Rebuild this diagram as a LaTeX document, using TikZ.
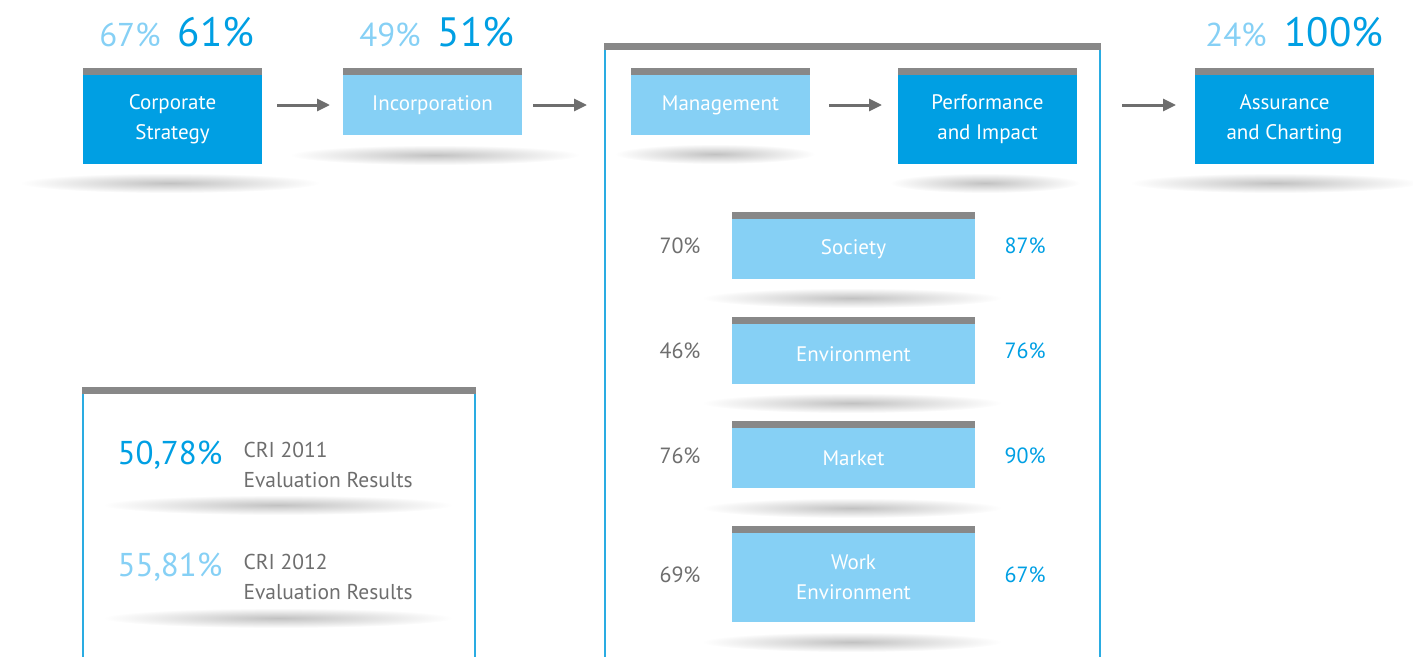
\documentclass[tikz,border=0pt]{standalone}
\usepackage{fontspec}
\setmainfont{PT Sans}
\usetikzlibrary{arrows.meta}
\definecolor{deepblue}{HTML}{009FE3}
\definecolor{paleblue}{HTML}{86D0F5}
\definecolor{bargray}{HTML}{888888}
\definecolor{inkgray}{HTML}{6E6E6E}
\definecolor{framecol}{HTML}{2AACE2}

% gray strip on top of a card
\newcommand\cardbar[1]{\fill[bargray] ([yshift=7pt]#1.north west) rectangle (#1.north east);}
% soft elliptic floor shadow: centre x, centre y, half width
\newcommand\floorshadow[3]{\shade[inner color=black!24, outer color=white] (#1,#2) ellipse [x radius=#3pt, y radius=10pt];}

\begin{document}
\begin{tikzpicture}[x=1pt,y=-1pt,
  card/.style={anchor=north west, inner sep=0pt, outer sep=0pt, text=white, align=center,
               font=\fontsize{21}{30}\selectfont, minimum width=179pt},
  darkcard/.style={card, fill=deepblue, minimum height=89pt},
  lightcard/.style={card, fill=paleblue, minimum height=60pt},
  rowcard/.style={card, fill=paleblue, minimum width=243pt, minimum height=60pt},
  panel/.style={draw=framecol, line width=2.5pt, anchor=north west, inner sep=0pt, outer sep=0pt},
  flow/.style={draw=inkgray, line width=3pt, -{Triangle[length=13pt,width=12pt]}},
  bigpale/.style={anchor=base, text=paleblue, font=\fontsize{33}{33}\selectfont},
  bigdeep/.style={anchor=base, text=deepblue, font=\fontsize{41}{41}\selectfont},
  sidegray/.style={text=inkgray, font=\fontsize{22}{22}\selectfont},
  sideblue/.style={text=deepblue, font=\fontsize{22}{22}\selectfont},
  caption/.style={anchor=base west, text=inkgray, font=\fontsize{21.5}{21.5}\selectfont},
  score/.style={anchor=base west, font=\fontsize{33}{33}\selectfont},
]
\useasboundingbox (0,0) rectangle (1413,656);
\clip (0,0) rectangle (1413,656);

% floor shadows
\floorshadow{170}{183}{150}
\floorshadow{435}{155}{145}
\floorshadow{715}{154}{100}
\floorshadow{985}{183}{95}
\floorshadow{1275}{183}{145}
\floorshadow{852}{298}{150}
\floorshadow{852}{403}{150}
\floorshadow{852}{508}{150}
\floorshadow{852}{642}{150}
\floorshadow{278}{505}{175}
\floorshadow{278}{618}{175}

% framed panels
\node[panel, minimum width=495pt, minimum height=700pt] (frame) at (605,47) {};
\fill[bargray] ([xshift=-1.25pt,yshift=4pt]frame.north west) rectangle ([xshift=1.25pt,yshift=-3pt]frame.north east);
\node[panel, minimum width=392pt, minimum height=400pt] (legend) at (83,391) {};
\fill[bargray] ([xshift=-1.25pt,yshift=4pt]legend.north west) rectangle ([xshift=1.25pt,yshift=-3pt]legend.north east);

% main stages
\node[darkcard] (cs) at (83,75) {Corporate\\Strategy};
\node[lightcard] (inc) at (343,75) {Incorporation};
\node[lightcard] (mgmt) at (631,75) {Management};
\node[darkcard] (perf) at (898,75) {Performance\\and Impact};
\node[darkcard] (assur) at (1195,75) {Assurance\\and Charting};
\foreach \c in {cs,inc,mgmt,perf,assur} {\cardbar{\c}}

% flow arrows
\draw[flow, shorten <=15pt, shorten >=13pt] (inc.west -| cs.east) -- (inc.west);
\draw[flow, shorten <=11pt, shorten >=18pt] (inc.east) -- (inc.east -| frame.west);
\draw[flow, shorten <=19pt, shorten >=16pt] (mgmt.east) -- (mgmt.east -| perf.west);
\draw[flow, shorten <=22pt, shorten >=19pt] (frame.east |- mgmt.east) -- (mgmt.east -| assur.west);

% stage scores
\node[bigpale] (cs-a) at (130,46) {67\%};
\node[bigdeep] (cs-b) at (216,46) {61\%};
\node[bigpale] (inc-a) at (390,46) {49\%};
\node[bigdeep] (inc-b) at (476,46) {51\%};
\node[bigpale] (as-a) at (1236,46) {24\%};
\node[bigdeep] (as-b) at (1334,46) {100\%};

% performance areas
\node[rowcard] (soc) at (732,219) {Society};
\node[rowcard] (env) at (732,324) {Environment};
\node[rowcard] (mkt) at (732,428) {Market};
\node[rowcard, minimum height=89pt] (work) at (732,533) {Work\\Environment};
\foreach \c in {soc,env,mkt,work} {\cardbar{\c}}

\node[sidegray] (soc-a) at (680,246) {70\%};
\node[sideblue] (soc-b) at (1025,246) {87\%};
\node[sidegray] (env-a) at (680,351) {46\%};
\node[sideblue] (env-b) at (1025,351) {76\%};
\node[sidegray] (mkt-a) at (680,456) {76\%};
\node[sideblue] (mkt-b) at (1025,456) {90\%};
\node[sidegray] (work-a) at (680,575) {69\%};
\node[sideblue] (work-b) at (1025,575) {67\%};

% evaluation results
\node[score, text=deepblue] (r11) at (114,464) {50,78\%};
\node[caption] (r11-a) at (240,457) {CRI 2011};
\node[caption] (r11-b) at (240,487) {Evaluation Results};
\node[score, text=paleblue] (r12) at (114,576) {55,81\%};
\node[caption] (r12-a) at (240,569) {CRI 2012};
\node[caption] (r12-b) at (240,599) {Evaluation Results};
\end{tikzpicture}
\end{document}
